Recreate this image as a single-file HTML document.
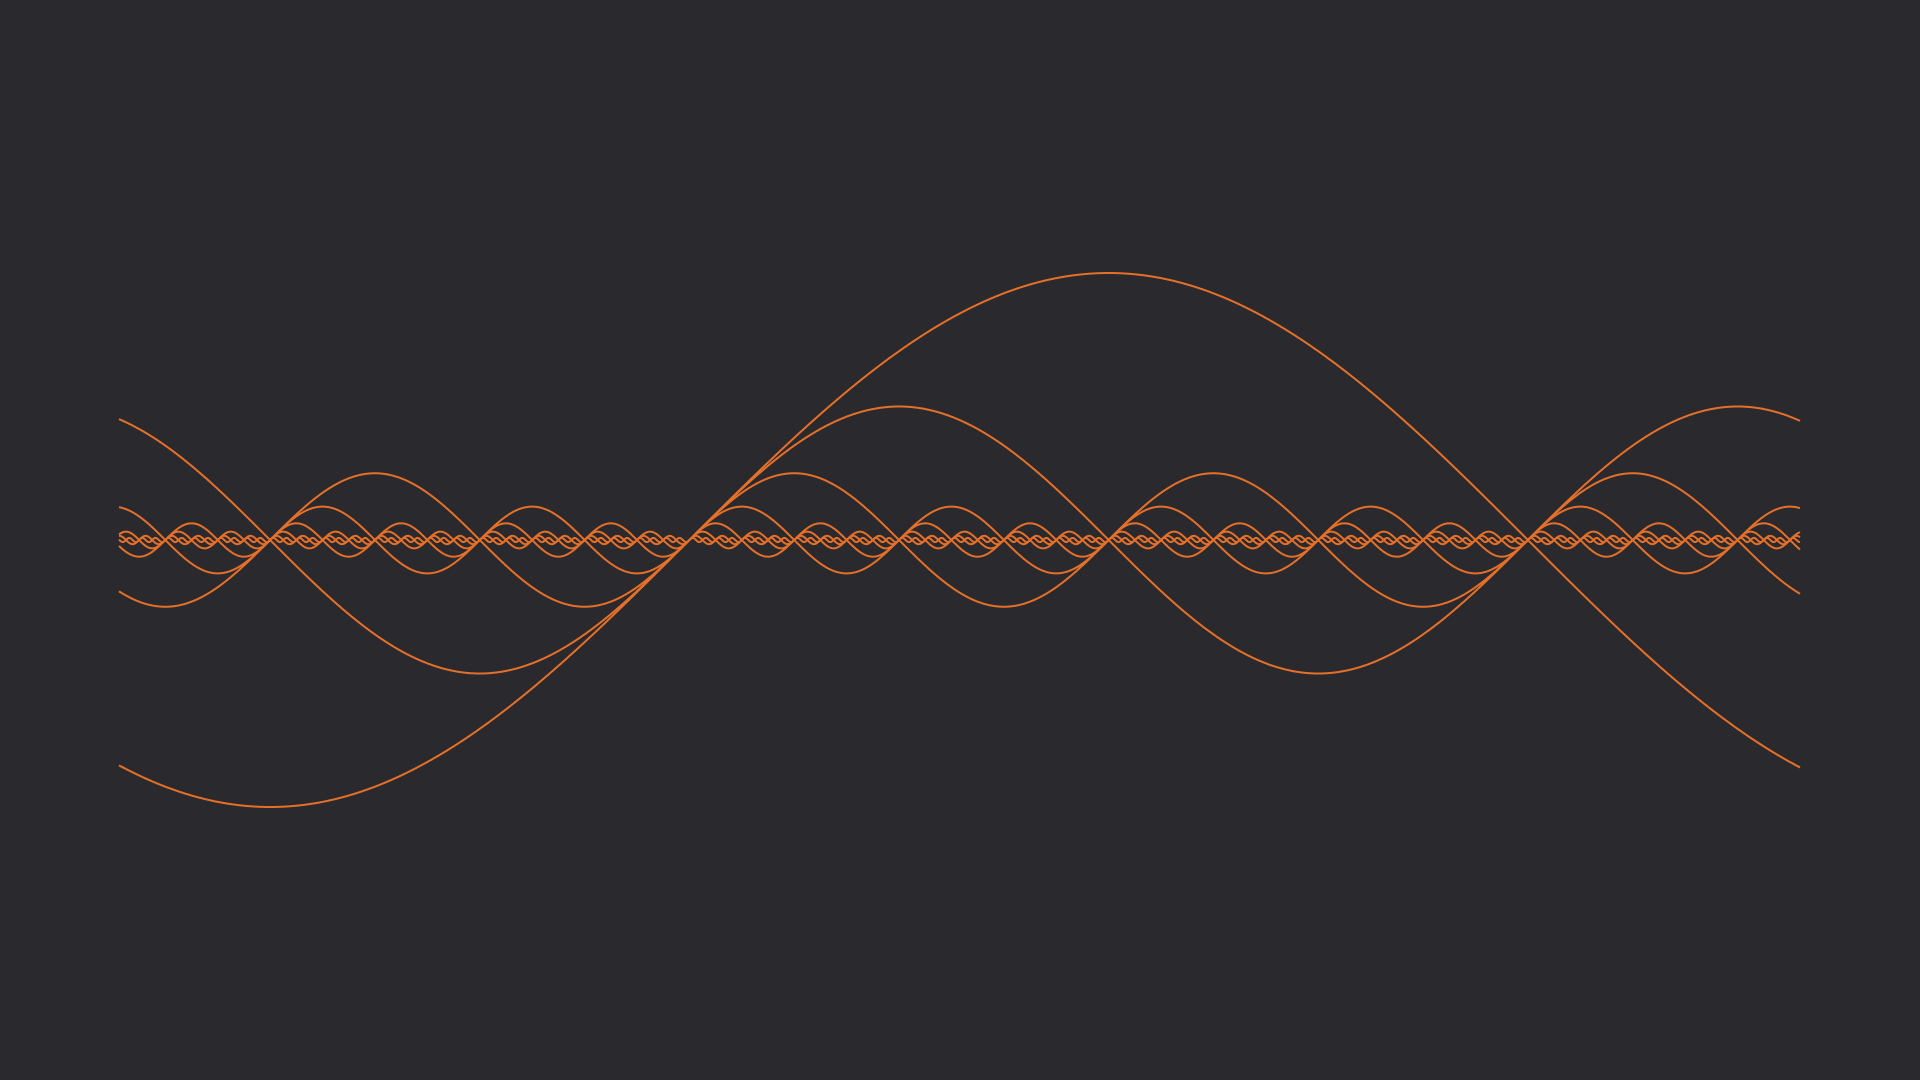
<!DOCTYPE html>
<html><head><meta charset="utf-8"><style>
html,body{margin:0;padding:0;background:#2a292d;width:1920px;height:1080px;overflow:hidden}
svg{display:block}
</style></head><body>
<svg id="chart" width="1920" height="1080">
<rect width="1920" height="1080" fill="#2a292d"/>
<g id="lines"></g>
</svg>
<script>
const harmonics = [1, 2, 4, 8, 16, 32, 64, 128];
const amplitudes = [1, 0.5, 0.25, 0.125, 0.0625, 0.03125, 0.015625, 0.0078125];
const xDomain = [-2.137, 4.161];
const yDomain = [-1, 1];
const X0 = 119, X1 = 1800, CY = 540, AMP = 267;
function xScale(t){ return X0 + (t - xDomain[0]) / (xDomain[1] - xDomain[0]) * (X1 - X0); }
function yScale(v){ return CY - v * AMP; }
const g = document.getElementById('lines');
const N = 2400;
harmonics.forEach((h, i) => {
  let d = '';
  for (let k = 0; k <= N; k++) {
    const t = xDomain[0] + (xDomain[1] - xDomain[0]) * k / N;
    const v = amplitudes[i] * Math.sin(h * t);
    d += (k ? 'L' : 'M') + xScale(t).toFixed(2) + ',' + yScale(v).toFixed(2);
  }
  const p = document.createElementNS('http://www.w3.org/2000/svg', 'path');
  p.setAttribute('d', d);
  p.setAttribute('fill', 'none');
  p.setAttribute('stroke', '#e5702a');
  p.setAttribute('stroke-width', '2');
  
  
  g.appendChild(p);
});
</script>
</body></html>
